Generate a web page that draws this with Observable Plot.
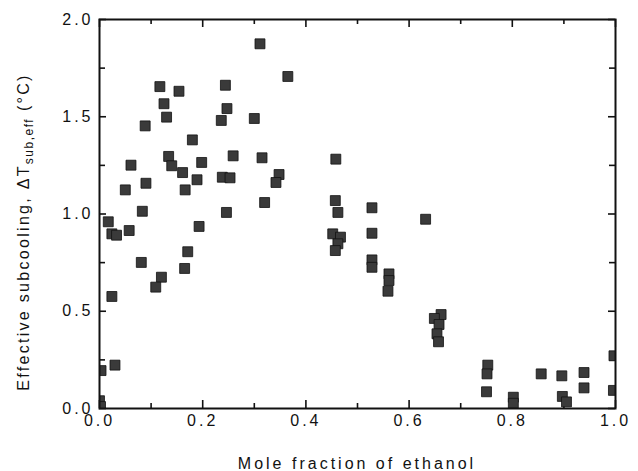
<!DOCTYPE html>
<html><head><meta charset="utf-8">
<script src="https://cdn.jsdelivr.net/npm/d3@7"></script>
<script src="https://cdn.jsdelivr.net/npm/@observablehq/plot@0.6"></script>
<style>body{margin:0;background:#fff} svg{display:block}</style>
</head><body><div id="chart"></div>
<script>
const moleFraction = [
  0.311, 0.365, 0.117, 0.154, 0.244, 0.125, 0.130, 0.247, 0.236, 0.300,
  0.0885, 0.180, 0.134, 0.140, 0.259, 0.315, 0.061, 0.198, 0.161, 0.238,
  0.253, 0.348, 0.342, 0.189, 0.050, 0.090, 0.166, 0.320, 0.083, 0.246,
  0.193, 0.017, 0.024, 0.033, 0.0575, 0.171, 0.081, 0.165, 0.120, 0.109,
  0.024, 0.030, 0.003, 0.000, 0.002,
  0.458, 0.457, 0.462, 0.528, 0.632, 0.452, 0.467, 0.462, 0.457, 0.528,
  0.528, 0.528, 0.561, 0.561, 0.559, 0.662, 0.649, 0.658, 0.654, 0.657,
  0.7525, 0.751, 0.750, 0.802, 0.802, 0.856, 0.896, 0.897, 0.905, 0.939,
  0.939, 0.997, 0.996
];
const subcooling = [
  1.875, 1.707, 1.655, 1.631, 1.662, 1.567, 1.498, 1.542, 1.481, 1.491,
  1.453, 1.381, 1.296, 1.248, 1.299, 1.289, 1.251, 1.265, 1.213, 1.189,
  1.186, 1.203, 1.162, 1.176, 1.124, 1.158, 1.124, 1.059, 1.014, 1.008,
  0.936, 0.960, 0.898, 0.891, 0.915, 0.806, 0.751, 0.720, 0.675, 0.624,
  0.576, 0.223, 0.195, 0.040, 0.010,
  1.282, 1.069, 1.008, 1.032, 0.973, 0.898, 0.881, 0.847, 0.812, 0.901,
  0.764, 0.726, 0.692, 0.658, 0.603, 0.483, 0.463, 0.432, 0.384, 0.343,
  0.223, 0.178, 0.086, 0.058, 0.027, 0.178, 0.168, 0.062, 0.034, 0.185,
  0.106, 0.271, 0.093
];
const xMajor = [0, 0.2, 0.4, 0.6, 0.8, 1.0];
const xMinor = [0.1, 0.3, 0.5, 0.7, 0.9];
const yMajor = [0, 0.5, 1.0, 1.5, 2.0];
const yMinor = [0.25, 0.75, 1.25, 1.75];
const xTitle = "Mole fraction of ethanol";
const yTitleMain = "Effective subcooling, \u0394T";
const yTitleSub = "sub,eff";
const yTitleEnd = " (\u00B0C)";

const W = 638, H = 471, ML = 99, MR = 23, MT = 19, MB = 63;
const FW = W - ML - MR, FH = H - MT - MB;

const data = moleFraction.map((x, i) => ({x, y: subcooling[i]}));
const font = "'Liberation Sans', Arial, Helvetica, sans-serif";
const fmt = d => d.toFixed(1);
const ts = {stroke: "#111", strokeWidth: 1.6};

const chart = Plot.plot({
  width: W, height: H,
  marginLeft: ML, marginRight: MR, marginTop: MT, marginBottom: MB,
  style: {fontFamily: font, fontSize: "16px", letterSpacing: "3px", color: "#111", background: "#fff"},
  x: {domain: [0, 1]},
  y: {domain: [0, 2]},
  marks: [
    Plot.axisX(xMajor, {anchor: "bottom", tickSize: 0, tickPadding: 6, tickFormat: fmt, label: null}),
    Plot.axisY(yMajor, {anchor: "left", tickSize: 0, tickPadding: 6, tickFormat: fmt, label: null}),
    Plot.ruleX(xMajor, {x: d => d, insetTop: FH - 8, ...ts}),
    Plot.ruleX(xMinor, {x: d => d, insetTop: FH - 5, ...ts}),
    Plot.ruleX(xMajor, {x: d => d, insetBottom: FH - 8, ...ts}),
    Plot.ruleX(xMinor, {x: d => d, insetBottom: FH - 5, ...ts}),
    Plot.ruleY(yMajor, {y: d => d, insetRight: FW - 7, ...ts}),
    Plot.ruleY(yMinor, {y: d => d, insetRight: FW - 6, ...ts}),
    Plot.ruleY(yMajor, {y: d => d, insetLeft: FW - 7, ...ts}),
    Plot.ruleY(yMinor, {y: d => d, insetLeft: FW - 6, ...ts}),
    Plot.dot(data, {x: "x", y: "y", symbol: "square", r: 5.6, fill: "#3a3a3a", stroke: "#111", strokeWidth: 0.8, clip: true}),
    Plot.frame({stroke: "#111", strokeWidth: 2})
  ]
});

const svg = d3.select(chart);
svg.append("text")
  .attr("x", 357).attr("y", 469)
  .attr("text-anchor", "middle")
  .style("font-family", font).style("font-size", "16px").style("letter-spacing", "3px")
  .attr("fill", "#111")
  .text(xTitle);

const yt = svg.append("text")
  .attr("transform", "translate(29,232) rotate(-90)")
  .attr("text-anchor", "middle")
  .style("font-family", font).style("font-size", "16px").style("letter-spacing", "2.3px")
  .attr("fill", "#111");
yt.append("tspan").text(yTitleMain);
yt.append("tspan").attr("dy", 4).style("font-size", "12px").style("letter-spacing", "1.5px").text(yTitleSub);
yt.append("tspan").attr("dy", -4).text(yTitleEnd);

document.getElementById("chart").appendChild(chart);
</script>
</body></html>
